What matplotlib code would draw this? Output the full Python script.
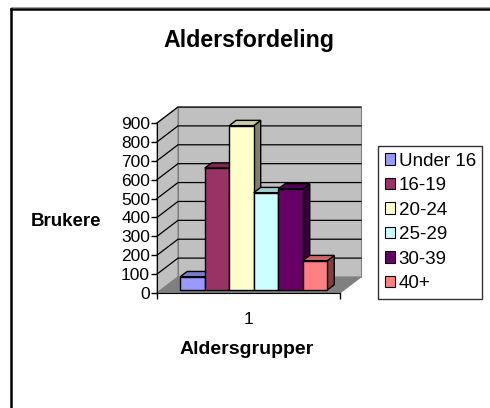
import matplotlib
matplotlib.use('Agg')
import matplotlib.pyplot as plt
from matplotlib.patches import Polygon, Patch
from matplotlib.lines import Line2D
import matplotlib.colors as mcolors

plt.rcParams['font.family'] = ['Liberation Sans', 'DejaVu Sans']

groups = ['Under 16', '16-19', '20-24', '25-29', '30-39', '40+']
users = [70, 645, 870, 515, 535, 155]
colors = ['#9999FF', '#993366', '#FFFFCC', '#CCFFFF', '#660066', '#FF8080']
yticks = list(range(0, 901, 100))
xlabel_cat = '1'

W, H = 490, 408
fig = plt.figure(figsize=(W / 100, H / 100), dpi=100)
ax = fig.add_axes([157 / W, 1 - 293 / H, 183 / W, 170 / H])
ax.set_xlim(0, 1)
ax.set_ylim(0, 900)

# oblique depth offset (full depth of the box)
DX = 21 / 183
DY = 16 * 900 / 170


def proj(x, y, z):
    return (x + z * DX, y + z * DY)


def shade(c, f):
    r, g, b = mcolors.to_rgb(c)
    return (r * f, g * f, b * f)


def poly(pts, fc, ec, lw=0.8, z=1):
    ax.add_patch(Polygon(pts, closed=True, facecolor=fc, edgecolor=ec,
                         linewidth=lw, clip_on=False, zorder=z))


# walls and floor
poly([proj(0, 0, 0), proj(0, 0, 1), proj(0, 900, 1), proj(0, 900, 0)], '#C0C0C0', '#808080')
poly([proj(0, 0, 1), proj(1, 0, 1), proj(1, 900, 1), proj(0, 900, 1)], '#C0C0C0', '#808080')
poly([proj(0, 0, 0), proj(1, 0, 0), proj(1, 0, 1), proj(0, 0, 1)], '#808080', '#808080')

for v in yticks[1:]:
    a, b = proj(0, v, 0), proj(0, v, 1)
    c = proj(1, v, 1)
    ax.plot([a[0], b[0], c[0]], [a[1], b[1], c[1]], color='black', lw=0.9,
            clip_on=False, zorder=1.5)

# bars
z0, z1 = 0.19, 0.52
x0, bw = 0.105, 0.134
for i, (h, col) in enumerate(zip(users, colors)):
    xl = x0 + i * bw
    xr = xl + bw
    poly([proj(xr, 0, z0), proj(xr, 0, z1), proj(xr, h, z1), proj(xr, h, z0)],
         shade(col, 0.5), 'black', 1.0, 3)
    poly([proj(xl, h, z0), proj(xr, h, z0), proj(xr, h, z1), proj(xl, h, z1)],
         shade(col, 0.8), 'black', 1.0, 3)
    poly([proj(xl, 0, z0), proj(xr, 0, z0), proj(xr, h, z0), proj(xl, h, z0)],
         col, 'black', 1.0, 3)

# axes
for s in ['top', 'right']:
    ax.spines[s].set_visible(False)
ax.spines['left'].set_color('black')
ax.spines['bottom'].set_color('black')
ax.spines['left'].set_zorder(4)
ax.spines['bottom'].set_zorder(4)
ax.set_yticks(yticks)
ax.tick_params(axis='y', direction='out', length=4, width=1, pad=1, labelsize=12.5)
ax.set_xticks([0.5])
ax.set_xticklabels([xlabel_cat])
ax.set_xticks([0, 1], minor=True)
ax.tick_params(axis='x', which='major', length=0, pad=14, labelsize=12.5)
ax.tick_params(axis='x', which='minor', direction='out', length=4, width=1)

fig.text(249 / W, 1 - 40 / H, 'Aldersfordeling', ha='center', va='center',
         fontsize=16.7, fontweight='bold')
fig.text(66 / W, 1 - 222 / H, 'Brukere', ha='center', va='center',
         fontsize=13.5, fontweight='bold')
fig.text(247 / W, 1 - 350 / H, 'Aldersgrupper', ha='center', va='center',
         fontsize=14, fontweight='bold')

handles = [Patch(facecolor=c, edgecolor='black', linewidth=0.8) for c in colors]
leg = fig.legend(handles, groups, loc='upper left',
                 bbox_to_anchor=(378 / W, 1 - 146 / H), fontsize=13.5,
                 frameon=True, fancybox=False, edgecolor='black',
                 handlelength=0.55, handleheight=0.55, handletextpad=0.2,
                 labelspacing=0.4, borderpad=0.35, borderaxespad=0)
leg.get_frame().set_linewidth(1.0)

# chart area border (left and top only visible)
fig.add_artist(Line2D([11 / W, 11 / W], [0, 1 - 9 / H], color='black', lw=1.8))
fig.add_artist(Line2D([11 / W, 1], [1 - 9 / H, 1 - 9 / H], color='black', lw=1.8))
fig.add_artist(Line2D([11 / W, 1], [1 - 7 / H, 1 - 7 / H], color='#a0a0a0', lw=0.8))

fig.savefig('out.png', dpi=100)
